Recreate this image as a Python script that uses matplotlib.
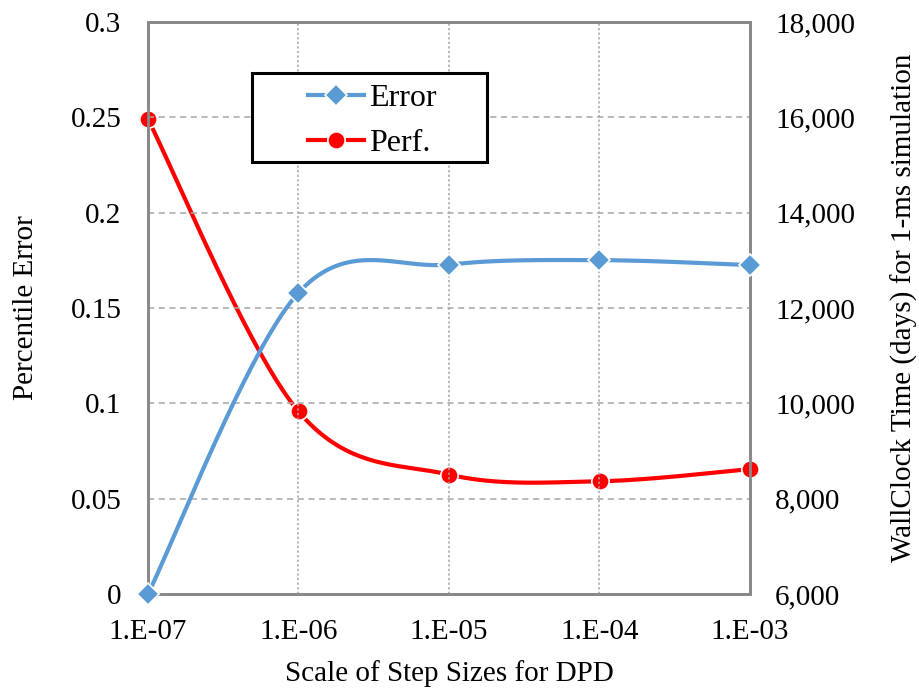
import numpy as np
import matplotlib
matplotlib.use("Agg")
import matplotlib.pyplot as plt
from matplotlib.ticker import FuncFormatter, MultipleLocator
from matplotlib.lines import Line2D
from matplotlib.patches import Rectangle

categories = ["1.E-07", "1.E-06", "1.E-05", "1.E-04", "1.E-03"]
error_vals = [0.0, 0.158, 0.1728, 0.1751, 0.1725]
perf_vals = [15960, 9830, 8505, 8365, 8620]

plt.rcParams['font.family'] = ['Liberation Serif', 'DejaVu Serif']

BLUE = "#5B9BD5"
RED = "#FF0000"
GRID = "#A6A6A6"
SPINE = "#898989"
FS = 21


def smooth(xs, ys, n=40):
    # Excel-like smoothed line (Catmull-Rom as cubic Bezier)
    xs = np.asarray(xs, float)
    ys = np.asarray(ys, float)
    px, py = [], []
    m = len(xs)
    for i in range(m - 1):
        x0, y0 = (xs[i - 1], ys[i - 1]) if i > 0 else (xs[i], ys[i])
        x1, y1 = xs[i], ys[i]
        x2, y2 = xs[i + 1], ys[i + 1]
        x3, y3 = (xs[i + 2], ys[i + 2]) if i + 2 < m else (xs[i + 1], ys[i + 1])
        c1x, c1y = x1 + (x2 - x0) / 6, y1 + (y2 - y0) / 6
        c2x, c2y = x2 - (x3 - x1) / 6, y2 - (y3 - y1) / 6
        t = np.linspace(0, 1, n)
        bx = (1 - t) ** 3 * x1 + 3 * (1 - t) ** 2 * t * c1x + 3 * (1 - t) * t ** 2 * c2x + t ** 3 * x2
        by = (1 - t) ** 3 * y1 + 3 * (1 - t) ** 2 * t * c1y + 3 * (1 - t) * t ** 2 * c2y + t ** 3 * y2
        px.extend(bx if i == 0 else bx[1:])
        py.extend(by if i == 0 else by[1:])
    return np.array(px), np.array(py)


fig = plt.figure(figsize=(9.2, 6.94), dpi=100)
ax = fig.add_axes([148 / 920, 1 - 594 / 694, (750 - 148) / 920, (594 - 22) / 694])
ax2 = ax.twinx()

x = np.arange(len(categories))

ax.set_xlim(0, len(categories) - 1)
ax.set_ylim(0, 0.3)
ax2.set_ylim(6000, 18000)

# grid
ax.yaxis.set_major_locator(MultipleLocator(0.05))
ax2.yaxis.set_major_locator(MultipleLocator(2000))
for yv in np.arange(0.05, 0.3, 0.05):
    ax.axhline(yv, color=GRID, lw=1.1, ls=(0, (4, 3)), zorder=0)
for xv in x[1:-1]:
    ax.axvline(xv, color=GRID, lw=1.1, ls=(0, (1.5, 1.5)), zorder=0)

sx, sy = smooth(x, error_vals)
ax.plot(sx, sy, color=BLUE, lw=3, zorder=3, solid_capstyle='round')
ax.plot(x, error_vals, ls='none', marker='D', ms=11.5, mfc=BLUE, mec='white', mew=1.2,
        zorder=4, clip_on=False)

rx, ry = smooth(x, perf_vals)
ax2.plot(rx, ry, color=RED, lw=3, zorder=3, solid_capstyle='round')
ax2.plot(x, perf_vals, ls='none', marker='o', ms=12.5, mfc=RED, mec='white', mew=1.2,
         zorder=4, clip_on=False)

ax.set_xticks(x)
ax.set_xticklabels(categories)
ax.yaxis.set_major_formatter(FuncFormatter(lambda v, p: "0" if abs(v) < 1e-9 else f"{v:g}"))
ax2.yaxis.set_major_formatter(FuncFormatter(lambda v, p: f"{int(round(v)):,}"))

for a in (ax, ax2):
    for s in a.spines.values():
        s.set_color(SPINE)
        s.set_linewidth(2)
    a.tick_params(length=0, labelsize=FS, colors='black')
ax.tick_params(axis='y', pad=19)
ax.tick_params(axis='x', pad=18)
ax2.tick_params(axis='y', pad=18)

ax.set_xlabel("Scale of Step Sizes for DPD", fontsize=FS, labelpad=11)
ax.set_ylabel("Percentile Error", fontsize=FS, labelpad=23)
ax2.set_ylabel("WallClock Time (days) for 1-ms simulation", fontsize=FS, labelpad=26)

ax.set_zorder(ax2.get_zorder() + 1)
ax.patch.set_visible(False)

# legend box
box = Rectangle((252 / 920, 1 - 162 / 694), (487 - 252) / 920, (162 - 73) / 694,
                transform=fig.transFigure, facecolor='white', edgecolor='black',
                lw=2.2, zorder=10)
fig.add_artist(box)
handles = [
    Line2D([], [], color=BLUE, lw=3, marker='D', ms=11.5, mfc=BLUE, mec='white', mew=1.2),
    Line2D([], [], color=RED, lw=3, marker='o', ms=12.5, mfc=RED, mec='white', mew=1.2),
]
leg = fig.legend(handles, ["Error", "Perf."], loc='center',
                 bbox_to_anchor=(372 / 920, 1 - 121 / 694), fontsize=23,
                 frameon=False, handlelength=1.75, handletextpad=0.15,
                 borderpad=0, labelspacing=0.5, borderaxespad=0)
leg.set_zorder(11)

fig.savefig("out.png", dpi=100)
